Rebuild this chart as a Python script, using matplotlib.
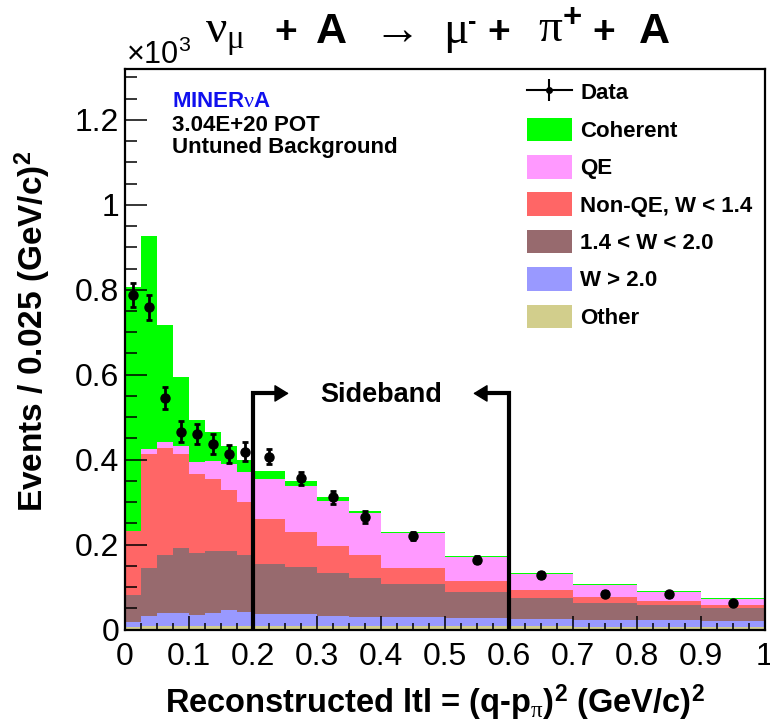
import numpy as np
import matplotlib
matplotlib.use('Agg')
import matplotlib.pyplot as plt
from matplotlib.patches import Patch
from matplotlib.ticker import MultipleLocator, FormatStrFormatter

plt.rcParams['font.family'] = ['Liberation Sans', 'DejaVu Sans']
plt.rcParams['mathtext.fontset'] = 'custom'
plt.rcParams['mathtext.rm'] = 'Liberation Serif'
plt.rcParams['mathtext.it'] = 'Liberation Serif:italic'
plt.rcParams['mathtext.bf'] = 'Liberation Sans:bold'
plt.rcParams['mathtext.sf'] = 'Liberation Sans'

# bin edges in |t| (GeV/c)^2, variable width
edges = np.array([0, 0.025, 0.05, 0.075, 0.1, 0.125, 0.15, 0.175, 0.2,
                  0.25, 0.3, 0.35, 0.4, 0.5, 0.6, 0.7, 0.8, 0.9, 1.0])

# stacked MC components (x10^3 events / 0.025), bottom to top
other = [0.006, 0.008, 0.008, 0.008, 0.008, 0.008, 0.008, 0.008, 0.008,
         0.008, 0.008, 0.008, 0.008, 0.008, 0.008, 0.007, 0.007, 0.007]
w_high = [0.012, 0.024, 0.030, 0.030, 0.026, 0.030, 0.038, 0.034, 0.0285,
          0.0285, 0.024, 0.022, 0.021, 0.018, 0.017, 0.015, 0.015, 0.014]
w_mid = [0.063, 0.112, 0.137, 0.155, 0.146, 0.147, 0.139, 0.133, 0.1185,
         0.1105, 0.102, 0.091, 0.078, 0.063, 0.050, 0.040, 0.036, 0.030]
non_qe = [0.150, 0.269, 0.253, 0.220, 0.186, 0.169, 0.144, 0.125, 0.106,
          0.083, 0.063, 0.054, 0.038, 0.026, 0.018, 0.014, 0.010, 0.007]
qe = [0.002, 0.011, 0.014, 0.019, 0.028, 0.044, 0.061, 0.072, 0.093,
      0.109, 0.106, 0.099, 0.082, 0.056, 0.038, 0.029, 0.021, 0.015]
coherent = [0.573, 0.503, 0.275, 0.162, 0.099, 0.066, 0.041, 0.027, 0.019,
            0.010, 0.010, 0.005, 0.003, 0.002, 0.001, 0.001, 0.002, 0.001]

data = [0.788, 0.759, 0.545, 0.466, 0.460, 0.437, 0.413, 0.419, 0.407,
        0.356, 0.311, 0.264, 0.220, 0.164, 0.128, 0.084, 0.083, 0.063]
data_err = [0.029, 0.029, 0.025, 0.025, 0.024, 0.023, 0.022, 0.023, 0.017,
            0.016, 0.015, 0.014, 0.009, 0.008, 0.007, 0.006, 0.006, 0.005]

sideband = (0.2, 0.6)
sideband_y = 0.556

layers = [
    ('Other', other, '#D2CE8C'),
    ('W > 2.0', w_high, '#9999FF'),
    ('1.4 < W < 2.0', w_mid, '#976A6E'),
    ('Non-QE, W < 1.4', non_qe, '#FF6666'),
    ('QE', qe, '#FF99FF'),
    ('Coherent', coherent, '#00FF00'),
]

fig = plt.figure(figsize=(7.7, 7.26), dpi=100)
ax = fig.add_axes([125 / 770, 96.5 / 726, 640 / 770, 560.5 / 726])

bottom = np.zeros(len(edges) - 1)
for name, vals, col in layers:
    top = bottom + np.array(vals)
    ax.stairs(top, edges, baseline=bottom, fill=True, color=col, lw=0)
    bottom = top

centers = 0.5 * (edges[:-1] + edges[1:])
ax.errorbar(centers, data, yerr=data_err, fmt='o', color='k', ms=6.5,
            elinewidth=2, capsize=2, capthick=2, zorder=5)

# sideband brackets
lo, hi = sideband
ax.plot([lo, lo, lo + 0.045], [0, sideband_y, sideband_y], color='k', lw=3,
        solid_joinstyle='miter', solid_capstyle='butt', zorder=4)
ax.plot([hi, hi, hi - 0.045], [0, sideband_y, sideband_y], color='k', lw=3,
        solid_joinstyle='miter', solid_capstyle='butt', zorder=4)
arr = dict(arrowstyle='-|>,head_length=0.9,head_width=0.55', mutation_scale=10,
           lw=1, color='k', shrinkA=0, shrinkB=0)
ax.annotate('', xy=(lo + 0.056, sideband_y), xytext=(lo + 0.035, sideband_y), arrowprops=arr)
ax.annotate('', xy=(hi - 0.056, sideband_y), xytext=(hi - 0.035, sideband_y), arrowprops=arr)
ax.text((lo + hi) / 2, 0.552, 'Sideband', ha='center', va='center',
        fontsize=19.5, fontweight='bold')

ax.set_xlim(0, 1)
ax.set_ylim(0, 1.32)
ax.xaxis.set_major_locator(MultipleLocator(0.1))
ax.xaxis.set_minor_locator(MultipleLocator(0.025))
ax.yaxis.set_major_locator(MultipleLocator(0.2))
ax.yaxis.set_minor_locator(MultipleLocator(0.05))
ax.xaxis.set_major_formatter(FormatStrFormatter('%g'))
ax.yaxis.set_major_formatter(FormatStrFormatter('%g'))
ax.tick_params(axis='y', which='major', direction='in', length=15.6, width=1.1,
               labelsize=23, pad=4)
ax.tick_params(axis='y', which='minor', direction='in', length=8.4, width=1.1)
ax.tick_params(axis='x', which='major', direction='in', length=10, width=1.1,
               labelsize=23, pad=9)
ax.tick_params(axis='x', which='minor', direction='in', length=5, width=1.1)
for s in ax.spines.values():
    s.set_linewidth(1.6)

# legend
data_proxy = ax.errorbar([], [], yerr=[], fmt='o-', color='k', ms=4, lw=1.5,
                         elinewidth=1.5)
handles = [data_proxy] + [Patch(facecolor=c, edgecolor='none') for n, v, c in layers[::-1]]
labels = ['Data'] + [n for n, v, c in layers[::-1]]
ax.legend(handles, labels, loc='upper left', bbox_to_anchor=(0.628, 0.980),
          frameon=False, prop={'weight': 'bold', 'size': 16}, handlelength=2.03,
          handleheight=1.26, labelspacing=0.59, handletextpad=0.37,
          borderpad=0, borderaxespad=0)

# labels on the plot
ax.text(0.073, 0.9317, r'MINER$\mathrm{\nu}$A', transform=ax.transAxes,
        color='#1010EE', fontsize=16, fontweight='bold', va='baseline')
ax.text(0.073, 0.890, '3.04E+20 POT', transform=ax.transAxes,
        fontsize=16, fontweight='bold', va='baseline')
ax.text(0.073, 0.8496, 'Untuned Background', transform=ax.transAxes,
        fontsize=16, fontweight='bold', va='baseline')

fig.text(126 / 770, 1 - 63.5 / 726, r'$\mathsf{\times10^{3}}$', fontsize=22,
         va='baseline', ha='left')

# title: greek symbols in serif, the rest bold sans  (x px, baseline px, text, size, weight)
title_parts = [
    (205, 42.7, r'$\mathrm{\nu_{\mu}}$', 34, 'normal'),
    (274, 42.7, '+', 28, 'bold'),
    (316, 42.7, 'A', 31, 'bold'),
    (367, 42.7, r'$\mathrm{\rightarrow}$', 34, 'normal'),
    (443, 42.7, r'$\mathrm{\mu}$', 34, 'normal'),
    (468, 29.5, '-', 18, 'bold'),
    (487, 42.7, '+', 28, 'bold'),
    (538, 42.7, r'$\mathrm{\pi}^{\mathbf{+}}$', 34, 'normal'),
    (592, 42.7, '+', 28, 'bold'),
    (639, 42.7, 'A', 31, 'bold'),
]
for px, py, s, size, weight in title_parts:
    fig.text(px / 770, 1 - py / 726, s, fontsize=size, fontweight=weight,
             ha='left', va='baseline')

fig.text(165 / 770, 1 - 713 / 726,
         r'Reconstructed ltl = (q-p$_{\mathrm{\pi}}$)$^{\mathbf{2}}$ (GeV/c)$^{\mathbf{2}}$',
         fontsize=23.5, fontweight='bold', ha='left', va='baseline')
fig.text(43 / 770, 1 - 512 / 726, r'Events / 0.025 (GeV/c)$^{\mathbf{2}}$',
         fontsize=24, fontweight='bold', rotation=90, rotation_mode='anchor',
         ha='left', va='baseline')

fig.savefig('out.png', dpi=100)
